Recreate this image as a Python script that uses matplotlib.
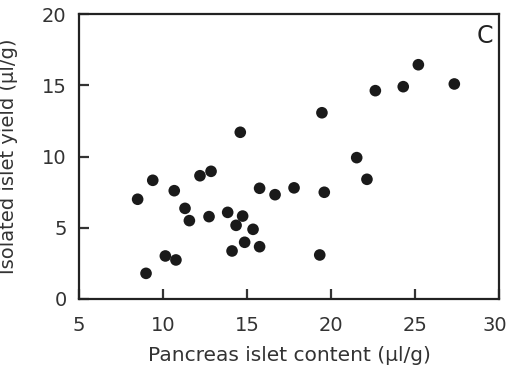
import matplotlib
matplotlib.use("Agg")
import matplotlib.pyplot as plt
import matplotlib.transforms as mtransforms

plt.rcParams['font.family'] = ['DejaVu Sans']

content = [8.49, 9.39, 8.99, 10.14, 10.77, 10.67, 11.31, 11.57, 12.2, 12.86,
           12.74, 13.85, 14.11, 14.35, 14.74, 14.86, 14.6, 15.36, 15.75, 15.75,
           16.67, 17.8, 19.46, 19.6, 19.33, 21.53, 22.14, 22.64, 24.3, 25.2, 27.34]
yield_ = [7.0, 8.33, 1.8, 3.02, 2.74, 7.6, 6.36, 5.5, 8.65, 8.96,
          5.78, 6.08, 3.37, 5.17, 5.82, 3.98, 11.7, 4.89, 3.67, 7.77,
          7.32, 7.8, 13.07, 7.49, 3.09, 9.92, 8.4, 14.62, 14.9, 16.44, 15.09]
xticks = [5, 10, 15, 20, 25, 30]
yticks = [0, 5, 10, 15, 20]

fig = plt.figure(figsize=(5.10, 3.69), dpi=100)
ax = fig.add_axes([79/510, 70/369, 420/510, 285/369])
ax.scatter(content, yield_, s=70, color='#1a1a1a', edgecolors='none', zorder=3)
ax.set_xlim(5, 30)
ax.set_ylim(0, 20)
ax.set_xticks(xticks)
ax.set_yticks(yticks)
ax.tick_params(direction='in', length=7, width=1.6, labelsize=14, colors='#333333',
               top=False, right=False, pad=9)
ax.tick_params(axis='x', pad=12)
for s in ax.spines.values():
    s.set_linewidth(1.6)
    s.set_color('#222222')
ax.set_xlabel('Pancreas islet content (µl/g)', fontsize=14.5, color='#333333', labelpad=8)
ax.set_ylabel('Isolated islet yield (µl/g)', fontsize=14, color='#333333', labelpad=17)
ax.text(0.985, 0.965, 'C', transform=ax.transAxes, ha='right', va='top',
        fontsize=17, color='#222222')
fig.canvas.draw()
last = ax.get_xticklabels()[-1]
last.set_transform(last.get_transform() + mtransforms.ScaledTranslation(-4/100, 0, fig.dpi_scale_trans))
fig.savefig('out.png', dpi=100)
